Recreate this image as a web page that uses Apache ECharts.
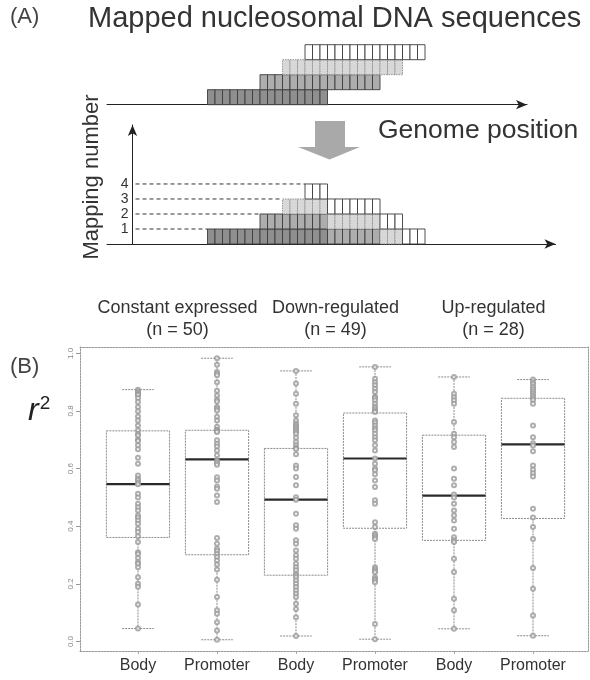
<!DOCTYPE html>
<html><head><meta charset="utf-8">
<script src="https://cdn.jsdelivr.net/npm/echarts@6/dist/echarts.min.js"></script>
<style>html,body{margin:0;padding:0;background:#fff}#main{width:590px;height:680px}</style>
</head><body><div id="main"></div>
<script>
// ---------- (A) schematic: four mapped nucleosomal reads ----------
const readStarts = [10, 17, 20, 23];      // start cell of each read along the genome
const READ_LENGTH = 16;                   // cells per read
const mappingTicks = [1, 2, 3, 4];

// ---------- (B) r^2 per gene ----------
const groups = ['Constant expressed', 'Down-regulated', 'Up-regulated'];
const regions = ['Body', 'Promoter'];
const yTicks = [0, 0.2, 0.4, 0.6, 0.8, 1.0];

// five-number summaries: [lower whisker, Q1, median, Q3, upper whisker]
const constBodyBox     = [0.045, 0.361, 0.546, 0.731, 0.874];
const constPromoterBox = [0.006, 0.301, 0.632, 0.733, 0.983];
const downBodyBox      = [0.019, 0.230, 0.492, 0.670, 0.939];
const downPromoterBox  = [0.008, 0.393, 0.635, 0.793, 0.953];
const upBodyBox        = [0.044, 0.351, 0.506, 0.716, 0.918];
const upPromoterBox    = [0.020, 0.427, 0.684, 0.844, 0.909];

const constBody = [0.874,0.868,0.862,0.858,0.855,0.845,0.831,0.814,0.799,0.781,0.767,0.75,0.733,0.72,0.715,0.70,0.696,0.681,0.667,0.638,0.617,0.576,0.565,0.56,0.551,0.546,0.513,0.50,0.478,0.466,0.455,0.437,0.43,0.42,0.409,0.391,0.38,0.365,0.345,0.31,0.304,0.29,0.275,0.27,0.258,0.223,0.2,0.19,0.128,0.045];
const constPromoter = [0.983,0.96,0.935,0.929,0.924,0.9,0.87,0.854,0.839,0.833,0.814,0.808,0.802,0.78,0.767,0.745,0.735,0.732,0.73,0.727,0.698,0.686,0.677,0.663,0.646,0.628,0.62,0.613,0.57,0.559,0.538,0.53,0.507,0.484,0.359,0.339,0.322,0.314,0.304,0.293,0.281,0.267,0.25,0.214,0.154,0.108,0.096,0.067,0.038,0.006];
const downBody = [0.939,0.895,0.86,0.825,0.785,0.767,0.756,0.75,0.744,0.738,0.733,0.727,0.721,0.707,0.692,0.681,0.672,0.668,0.65,0.611,0.6,0.571,0.542,0.501,0.492,0.443,0.403,0.391,0.351,0.339,0.316,0.299,0.287,0.27,0.258,0.247,0.235,0.229,0.223,0.212,0.2,0.189,0.177,0.166,0.154,0.131,0.113,0.084,0.019];
const downPromoter = [0.953,0.912,0.9,0.889,0.877,0.866,0.849,0.845,0.837,0.825,0.815,0.808,0.80,0.796,0.767,0.76,0.75,0.74,0.733,0.721,0.709,0.698,0.681,0.663,0.635,0.617,0.6,0.594,0.58,0.559,0.536,0.49,0.478,0.414,0.397,0.374,0.368,0.362,0.356,0.258,0.252,0.245,0.24,0.223,0.217,0.212,0.206,0.061,0.008];
const upBody = [0.918,0.86,0.848,0.837,0.825,0.762,0.721,0.709,0.692,0.675,0.6,0.565,0.542,0.51,0.50,0.478,0.455,0.437,0.42,0.391,0.362,0.351,0.345,0.287,0.241,0.148,0.108,0.044];
const upPromoter = [0.909,0.90,0.893,0.883,0.875,0.868,0.86,0.852,0.845,0.838,0.825,0.75,0.709,0.688,0.68,0.66,0.611,0.596,0.584,0.573,0.461,0.43,0.397,0.356,0.255,0.183,0.09,0.02];

// ---------- derived structures ----------
const boxes = [constBodyBox, constPromoterBox, downBodyBox, downPromoterBox, upBodyBox, upPromoterBox];
const pointSets = [constBody, constPromoter, downBody, downPromoter, upBody, upPromoter];
const groupSizes = [constBody.length, downBody.length, upBody.length];

const FONT = "'Liberation Sans', Arial, sans-serif";
const readFill   = ['#8f8f8f', '#adadad', '#d8d8d8', '#ffffff'];
const readStroke = ['#3c3c3c', '#3c3c3c', '#8c8c8c', '#3c3c3c'];

// stacked coverage: at each position the k-th covering read sits on level k
const coverageCells = [];
const firstOnLevel = {};
const posMin = Math.min(...readStarts), posMax = Math.max(...readStarts) + READ_LENGTH;
for (let p = posMin; p < posMax; p++) {
  let level = 0;
  readStarts.forEach((s, r) => {
    if (p >= s && p < s + READ_LENGTH) {
      level++;
      coverageCells.push([p, level, r]);
      if (firstOnLevel[level] === undefined) firstOnLevel[level] = p;
    }
  });
}

function cellRect(api, x0, y0, x1, y1, r) {
  const a = api.coord([x0, y1]), b = api.coord([x1, y0]);
  return {
    type: 'rect',
    shape: { x: a[0], y: a[1], width: b[0] - a[0], height: b[1] - a[1] },
    style: { fill: readFill[r], stroke: readStroke[r], lineWidth: 0.9,
             lineDash: r === 2 ? [1.5, 1] : null }
  };
}

const arrowAxisLine = {
  show: true, onZero: true,
  symbol: ['none', 'arrow'], symbolSize: [7, 11],
  lineStyle: { color: '#222', width: 1 }
};

const BOX_WIDTH = 0.8;
const frameLine = { show: true, onZero: false, lineStyle: { color: '#9a9a9a', width: 1, type: [2, 1] } };

const chart = echarts.init(document.getElementById('main'));
chart.setOption({
  animation: false,
  textStyle: { fontFamily: FONT },
  grid: [
    { left: 107, width: 420, top: 41.7, height: 63 },
    { left: 107, width: 448.5, top: 125, height: 119 },
    { left: 80, top: 347, width: 508, height: 304 }
  ],
  xAxis: [
    { gridIndex: 0, type: 'value', min: -3.4, max: 52.6, axisLine: arrowAxisLine,
      axisTick: { show: false }, axisLabel: { show: false }, splitLine: { show: false } },
    { gridIndex: 1, type: 'value', min: -3.4, max: 56.4, axisLine: arrowAxisLine,
      axisTick: { show: false }, axisLabel: { show: false }, splitLine: { show: false } },
    { gridIndex: 2, type: 'value', min: 0.266, max: 6.696, position: 'bottom',
      axisLine: frameLine, splitLine: { show: false },
      axisTick: { show: true, customValues: [1, 2, 3, 4, 5, 6], length: 3, lineStyle: { color: '#aaa' } },
      axisLabel: { customValues: [1, 2, 3, 4, 5, 6], margin: 7, fontSize: 16, color: '#333',
        formatter: v => regions[(Math.round(v) - 1) % 2] } },
    { gridIndex: 2, type: 'value', min: 0.266, max: 6.696, position: 'top',
      axisLine: frameLine, splitLine: { show: false }, axisTick: { show: false },
      axisLabel: { customValues: [1.5, 3.5, 5.5], margin: 6, fontSize: 18, lineHeight: 22, color: '#333',
        formatter: v => { const g = Math.round((v - 1.5) / 2); return groups[g] + '\n(n = ' + groupSizes[g] + ')'; } } }
  ],
  yAxis: [
    { gridIndex: 0, type: 'value', min: 0, max: 4.2, show: false },
    { gridIndex: 1, type: 'value', min: 0, max: 7.93, axisLine: arrowAxisLine,
      axisTick: { show: false }, splitLine: { show: false }, axisLabel: { show: false } },
    { gridIndex: 2, type: 'value', min: -0.033, max: 1.022, position: 'left',
      axisLine: frameLine, splitLine: { show: false },
      axisTick: { show: true, customValues: yTicks, length: 4, lineStyle: { color: '#999' } },
      axisLabel: { customValues: yTicks, rotate: 90, fontSize: 8, color: '#888', margin: 5,
        formatter: v => v.toFixed(1) } },
    { gridIndex: 2, type: 'value', min: -0.033, max: 1.022, position: 'right',
      axisLine: frameLine, splitLine: { show: false }, axisTick: { show: false }, axisLabel: { show: false } }
  ],
  series: [
    { // individual reads
      type: 'custom', xAxisIndex: 0, yAxisIndex: 0,
      data: readStarts.map((s, r) => [s, r]),
      renderItem: (params, api) => {
        const s = api.value(0), r = api.value(1);
        const children = [];
        for (let j = 0; j < READ_LENGTH; j++) children.push(cellRect(api, s + j, r, s + j + 1, r + 1, r));
        return { type: 'group', children };
      }
    },
    { // stacked mapping counts
      type: 'custom', xAxisIndex: 1, yAxisIndex: 1,
      data: coverageCells,
      renderItem: (params, api) => {
        const p = api.value(0), lv = api.value(1), r = api.value(2);
        return cellRect(api, p, lv - 1, p + 1, lv, r);
      }
    },
    { // count labels and dashed guides from the count axis to each level
      type: 'custom', xAxisIndex: 1, yAxisIndex: 1, z: 1,
      data: mappingTicks.map(k => [k, firstOnLevel[k]]),
      renderItem: (params, api) => {
        const k = api.value(0), p = api.value(1);
        const a = api.coord([0, k]), b = api.coord([p, k]);
        return { type: 'group', children: [
          { type: 'line', shape: { x1: a[0] + 3, y1: a[1], x2: b[0], y2: b[1] },
            style: { stroke: '#333', lineWidth: 1, lineDash: [4, 3] } },
          { type: 'text', x: a[0] - 4, y: a[1],
            style: { text: String(k), font: '14px ' + FONT, fill: '#333', align: 'right', verticalAlign: 'middle' } }
        ] };
      }
    },
    { // box-and-whisker
      type: 'custom', xAxisIndex: 2, yAxisIndex: 2,
      data: boxes.map((b, i) => [i + 1, ...b]),
      renderItem: (params, api) => {
        const x = api.value(0);
        const lo = api.value(1), q1 = api.value(2), med = api.value(3), q3 = api.value(4), hi = api.value(5);
        const h = BOX_WIDTH / 2, c = BOX_WIDTH / 4;
        const tl = api.coord([x - h, q3]), br = api.coord([x + h, q1]);
        const mL = api.coord([x - h, med]), mR = api.coord([x + h, med]);
        const top = api.coord([x, hi]), q3p = api.coord([x, q3]), q1p = api.coord([x, q1]), bot = api.coord([x, lo]);
        const capT0 = api.coord([x - c, hi]), capT1 = api.coord([x + c, hi]);
        const capB0 = api.coord([x - c, lo]), capB1 = api.coord([x + c, lo]);
        const thin = { stroke: '#8a8a8a', lineWidth: 1, lineDash: [2, 1] };
        return { type: 'group', children: [
          { type: 'rect', shape: { x: tl[0], y: tl[1], width: br[0] - tl[0], height: br[1] - tl[1] },
            style: { fill: 'none', stroke: '#8a8a8a', lineWidth: 1, lineDash: [2, 1] } },
          { type: 'line', shape: { x1: top[0], y1: top[1], x2: q3p[0], y2: q3p[1] }, style: thin },
          { type: 'line', shape: { x1: q1p[0], y1: q1p[1], x2: bot[0], y2: bot[1] }, style: thin },
          { type: 'line', shape: { x1: capT0[0], y1: capT0[1], x2: capT1[0], y2: capT1[1] }, style: thin },
          { type: 'line', shape: { x1: capB0[0], y1: capB0[1], x2: capB1[0], y2: capB1[1] }, style: thin },
          { type: 'line', z2: 10, shape: { x1: mL[0], y1: mL[1], x2: mR[0], y2: mR[1] },
            style: { stroke: '#2a2a2a', lineWidth: 2.2 } }
        ] };
      }
    },
    { // individual genes
      type: 'scatter', xAxisIndex: 2, yAxisIndex: 2, z: 3,
      symbol: 'emptyCircle', symbolSize: 4,
      itemStyle: { color: '#9a9a9a', borderWidth: 0.8 },
      data: pointSets.flatMap((vals, i) => vals.map(v => [i + 1, v]))
    }
  ],
  graphic: [
    { type: 'text', left: 10, top: 6, style: { text: '(A)', font: '22px ' + FONT, fill: '#444' } },
    { type: 'text', left: 88, top: 4, style: { text: 'Mapped nucleosomal DNA sequences', font: '29px ' + FONT, fill: '#333' } },
    { type: 'text', left: 378, top: 117, style: { text: 'Genome position', font: '26.5px ' + FONT, fill: '#333' } },
    { type: 'text', x: 92, y: 177, rotation: Math.PI / 2,
      style: { text: 'Mapping number', font: '22px ' + FONT, fill: '#333', align: 'center', verticalAlign: 'middle' } },
    { type: 'polygon', z: 5,
      shape: { points: [[315, 121], [345, 121], [345, 147], [360, 147], [329.5, 159.5], [298, 147], [315, 147]] },
      style: { fill: '#a9a9a9' } },
    { type: 'text', left: 10, top: 356, style: { text: '(B)', font: '22px ' + FONT, fill: '#444' } },
    { type: 'text', left: 28, top: 394,
      style: { text: '{r|r}{s|2}', fill: '#222',
        rich: { r: { font: 'italic 32px ' + FONT, verticalAlign: 'bottom' },
                s: { font: '19px ' + FONT, verticalAlign: 'top', padding: [0, 0, 14, 1] } } } }
  ]
});
</script>
</body></html>
